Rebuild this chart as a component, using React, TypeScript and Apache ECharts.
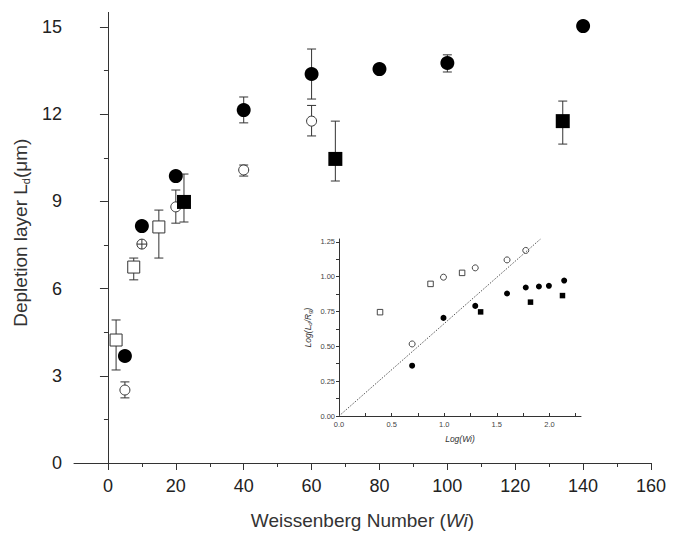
import React, { useEffect, useRef } from "react";
import * as echarts from "echarts";

// ---- Main chart data (Weissenberg number vs depletion layer thickness, µm)
const filledCircleWi = [5, 10, 20, 40, 60, 80, 100, 140];
const filledCircleLd = [3.68, 8.15, 9.87, 12.14, 13.38, 13.55, 13.76, 15.03];
const filledCircleErrLo = [null, null, null, 11.7, 12.52, null, 13.45, null];
const filledCircleErrHi = [null, null, null, 12.59, 14.24, null, 14.04, null];

const openCircleWi = [5, 20, 40, 60];
const openCircleLd = [2.51, 8.81, 10.08, 11.76];
const openCircleErrLo = [2.24, 8.25, 9.87, 11.25];
const openCircleErrHi = [2.79, 9.39, 10.25, 12.3];

const crossCircleWi = [10];
const crossCircleLd = [7.53];

const openSquareWi = [2.4, 7.6, 15];
const openSquareLd = [4.23, 6.74, 8.12];
const openSquareErrLo = [3.2, 6.3, 7.05];
const openSquareErrHi = [4.92, 7.05, 8.7];

const filledSquareWi = [22.4, 67, 134];
const filledSquareLd = [8.98, 10.46, 11.76];
const filledSquareErrLo = [8.29, 9.7, 10.97];
const filledSquareErrHi = [9.94, 11.76, 12.45];

const mainXTicks = [0, 20, 40, 60, 80, 100, 120, 140, 160];
const mainXMinorTicks = [10, 30, 50, 70, 90, 110, 130, 150];
const mainYTicks = [0, 3, 6, 9, 12, 15];
const mainYMinorTicks = [1.5, 4.5, 7.5, 10.5, 13.5];

// ---- Inset data (log-log)
const insetOpenSquareX = [0.39, 0.87, 1.17];
const insetOpenSquareY = [0.745, 0.948, 1.027];
const insetOpenCircleX = [0.695, 0.993, 1.295, 1.597, 1.775];
const insetOpenCircleY = [0.517, 0.996, 1.063, 1.12, 1.188];
const insetFilledCircleX = [0.695, 0.993, 1.295, 1.597, 1.775, 1.9, 1.995, 2.14];
const insetFilledCircleY = [0.361, 0.704, 0.79, 0.879, 0.922, 0.929, 0.934, 0.972];
const insetFilledSquareX = [1.346, 1.82, 2.124];
const insetFilledSquareY = [0.747, 0.817, 0.864];
const insetLineX = [0, 1.915];
const insetLineY = [0, 1.27];

const insetXLabels = [0, 0.5, 1.0, 1.5, 2.0];
const insetXTicks = [0, 0.25, 0.5, 0.75, 1.0, 1.25, 1.5, 1.75, 2.0, 2.25];
const insetYLabels = [0, 0.25, 0.5, 0.75, 1.0, 1.25];
const insetYTicks = [0, 0.125, 0.25, 0.375, 0.5, 0.625, 0.75, 0.875, 1.0, 1.125, 1.25];

const FONT = 'Arial, "Liberation Sans", sans-serif';
const AXIS = "#333";
const TXT = "#222";

const zip = (xs: number[], ys: number[]) => xs.map((x, i) => [x, ys[i]]);
const errs = (xs: number[], lo: (number | null)[], hi: (number | null)[]) =>
  xs
    .map((x, i) => (lo[i] == null || hi[i] == null ? null : [x, lo[i], hi[i]]))
    .filter((d) => d !== null);

const crossCirclePath =
  "path://M0,10 A10,10 0 1,0 20,10 A10,10 0 1,0 0,10 Z M0,10 L20,10 M10,0 L10,20";

export default function App() {
  const ref = useRef<HTMLDivElement>(null);
  useEffect(() => {
    if (!ref.current) return;
    const chart = echarts.init(ref.current, null, { renderer: "svg" });
    const errData = [
      ...errs(filledCircleWi, filledCircleErrLo, filledCircleErrHi),
      ...errs(openCircleWi, openCircleErrLo, openCircleErrHi),
      ...errs(openSquareWi, openSquareErrLo, openSquareErrHi),
      ...errs(filledSquareWi, filledSquareErrLo, filledSquareErrHi),
    ];
    const option: any = {
      animation: false,
      backgroundColor: "#fff",
      textStyle: { fontFamily: FONT },
      grid: [
        { left: 74, right: 28, top: 12.4, bottom: 80 },
        { left: 339, right: 98, top: 239, bottom: 127 },
      ],
      xAxis: [
        {
          gridIndex: 0,
          type: "value",
          min: -10,
          max: 160,
          axisLine: { lineStyle: { color: AXIS, width: 1 } },
          axisTick: { customValues: mainXTicks, length: 7, lineStyle: { color: AXIS } },
          axisLabel: {
            customValues: mainXTicks,
            fontSize: 18,
            color: TXT,
            margin: 14,
            fontFamily: FONT,
          },
          splitLine: { show: false },
          name: "{a|Weissenberg Number (}{i|Wi}{a|)}",
          nameLocation: "middle",
          nameGap: 48,
          nameTextStyle: {
            rich: {
              a: { fontSize: 19, color: "#333", fontFamily: FONT },
              i: { fontSize: 19, color: "#333", fontStyle: "italic", fontFamily: FONT },
            },
          },
        },
        {
          gridIndex: 0,
          type: "value",
          min: -10,
          max: 160,
          position: "bottom",
          axisLine: { show: false },
          axisTick: { customValues: mainXMinorTicks, length: 4, lineStyle: { color: AXIS } },
          axisLabel: { show: false },
          splitLine: { show: false },
        },
        {
          gridIndex: 1,
          type: "value",
          min: 0,
          max: 2.3,
          axisLine: { lineStyle: { color: AXIS, width: 1 } },
          axisTick: { customValues: insetXTicks, length: 3, inside: true, lineStyle: { color: AXIS } },
          axisLabel: {
            customValues: insetXLabels,
            fontSize: 7.5,
            color: "#444",
            margin: 4,
            formatter: (v: number) => v.toFixed(1),
          },
          splitLine: { show: false },
          name: "Log(Wi)",
          nameLocation: "middle",
          nameGap: 18,
          nameTextStyle: { fontSize: 8.5, fontStyle: "italic", color: "#333" },
        },
      ],
      yAxis: [
        {
          gridIndex: 0,
          type: "value",
          min: 0,
          max: 15.5,
          axisLine: { show: true, lineStyle: { color: AXIS, width: 1 } },
          axisTick: { show: true, customValues: mainYTicks, length: 8, lineStyle: { color: AXIS } },
          axisLabel: {
            customValues: mainYTicks,
            fontSize: 18,
            color: TXT,
            margin: 12,
          },
          splitLine: { show: false },
          name: "{a|Depletion layer L}{s|d}{a|(μm)}",
          nameLocation: "middle",
          nameRotate: 90,
          nameGap: 42,
          nameTextStyle: {
            padding: [0, 0, 0, 10],
            rich: {
              a: { fontSize: 19, color: "#333", fontFamily: FONT, lineHeight: 22 },
              s: { fontSize: 11, color: "#333", fontFamily: FONT, lineHeight: 22, verticalAlign: "bottom", padding: [6, 0, 0, 0] },
            },
          },
        },
        {
          gridIndex: 0,
          type: "value",
          min: 0,
          max: 15.5,
          position: "left",
          axisLine: { show: false },
          axisTick: { show: true, customValues: mainYMinorTicks, length: 4, lineStyle: { color: AXIS } },
          axisLabel: { show: false },
          splitLine: { show: false },
        },
        {
          gridIndex: 1,
          type: "value",
          min: 0,
          max: 1.27,
          axisLine: { show: true, lineStyle: { color: AXIS, width: 1 } },
          axisTick: { show: true, customValues: insetYTicks, length: 3, lineStyle: { color: AXIS } },
          axisLabel: {
            customValues: insetYLabels,
            fontSize: 7.5,
            color: "#444",
            margin: 4,
            formatter: (v: number) => v.toFixed(2),
          },
          splitLine: { show: false },
          name: "{a|Log(L}{s|d}{a|/R}{s|g}{a|)}",
          nameLocation: "middle",
          nameRotate: 90,
          nameGap: 26,
          nameTextStyle: {
            rich: {
              a: { fontSize: 8.5, fontStyle: "italic", color: "#333", lineHeight: 10 },
              s: { fontSize: 6, fontStyle: "italic", color: "#333", lineHeight: 10, verticalAlign: "bottom", padding: [3, 0, 0, 0] },
            },
          },
        },
      ],
      series: [
        {
          type: "custom",
          xAxisIndex: 0,
          yAxisIndex: 0,
          z: 1,
          data: errData,
          renderItem: (params: any, api: any) => {
            const x = api.value(0);
            const lo = api.coord([x, api.value(1)]);
            const hi = api.coord([x, api.value(2)]);
            const w = 4.5;
            const style = { stroke: "#333", lineWidth: 1, fill: null };
            return {
              type: "group",
              children: [
                { type: "line", shape: { x1: lo[0], y1: lo[1], x2: hi[0], y2: hi[1] }, style },
                { type: "line", shape: { x1: lo[0] - w, y1: lo[1], x2: lo[0] + w, y2: lo[1] }, style },
                { type: "line", shape: { x1: hi[0] - w, y1: hi[1], x2: hi[0] + w, y2: hi[1] }, style },
              ],
            };
          },
        },
        {
          type: "scatter",
          xAxisIndex: 0,
          yAxisIndex: 0,
          z: 3,
          symbol: "rect",
          symbolSize: 12,
          itemStyle: { color: "#fff", borderColor: "#333", borderWidth: 1, opacity: 1 },
          data: zip(openSquareWi, openSquareLd),
        },
        {
          type: "scatter",
          xAxisIndex: 0,
          yAxisIndex: 0,
          z: 3,
          symbol: "circle",
          symbolSize: 10,
          itemStyle: { color: "#fff", borderColor: "#333", borderWidth: 1, opacity: 1 },
          data: zip(openCircleWi, openCircleLd),
        },
        {
          type: "scatter",
          xAxisIndex: 0,
          yAxisIndex: 0,
          z: 3,
          symbol: crossCirclePath,
          symbolSize: 10,
          itemStyle: { color: "#fff", borderColor: "#333", borderWidth: 1, opacity: 1 },
          data: zip(crossCircleWi, crossCircleLd),
        },
        {
          type: "scatter",
          xAxisIndex: 0,
          yAxisIndex: 0,
          z: 4,
          symbol: "circle",
          symbolSize: 14,
          itemStyle: { color: "#000", opacity: 1 },
          data: zip(filledCircleWi, filledCircleLd),
        },
        {
          type: "scatter",
          xAxisIndex: 0,
          yAxisIndex: 0,
          z: 4,
          symbol: "rect",
          symbolSize: 14,
          itemStyle: { color: "#000", opacity: 1 },
          data: zip(filledSquareWi, filledSquareLd),
        },
        // inset
        {
          type: "line",
          xAxisIndex: 2,
          yAxisIndex: 2,
          symbol: "none",
          lineStyle: { color: "#555", width: 1, type: [1.5, 1.5] },
          data: zip(insetLineX, insetLineY),
        },
        {
          type: "scatter",
          xAxisIndex: 2,
          yAxisIndex: 2,
          symbol: "rect",
          symbolSize: 5.5,
          itemStyle: { color: "#fff", borderColor: "#333", borderWidth: 0.9, opacity: 1 },
          data: zip(insetOpenSquareX, insetOpenSquareY),
        },
        {
          type: "scatter",
          xAxisIndex: 2,
          yAxisIndex: 2,
          symbol: "circle",
          symbolSize: 6,
          itemStyle: { color: "#fff", borderColor: "#333", borderWidth: 0.9, opacity: 1 },
          data: zip(insetOpenCircleX, insetOpenCircleY),
        },
        {
          type: "scatter",
          xAxisIndex: 2,
          yAxisIndex: 2,
          symbol: "circle",
          symbolSize: 6,
          itemStyle: { color: "#000", opacity: 1 },
          data: zip(insetFilledCircleX, insetFilledCircleY),
        },
        {
          type: "scatter",
          xAxisIndex: 2,
          yAxisIndex: 2,
          symbol: "rect",
          symbolSize: 5.5,
          itemStyle: { color: "#000", opacity: 1 },
          data: zip(insetFilledSquareX, insetFilledSquareY),
        },
      ],
    };
    chart.setOption(option);
    return () => chart.dispose();
  }, []);
  return (
    <div
      ref={ref}
      style={{ position: "fixed", left: 0, top: 0, width: 679, height: 543, background: "#fff" }}
    />
  );
}
